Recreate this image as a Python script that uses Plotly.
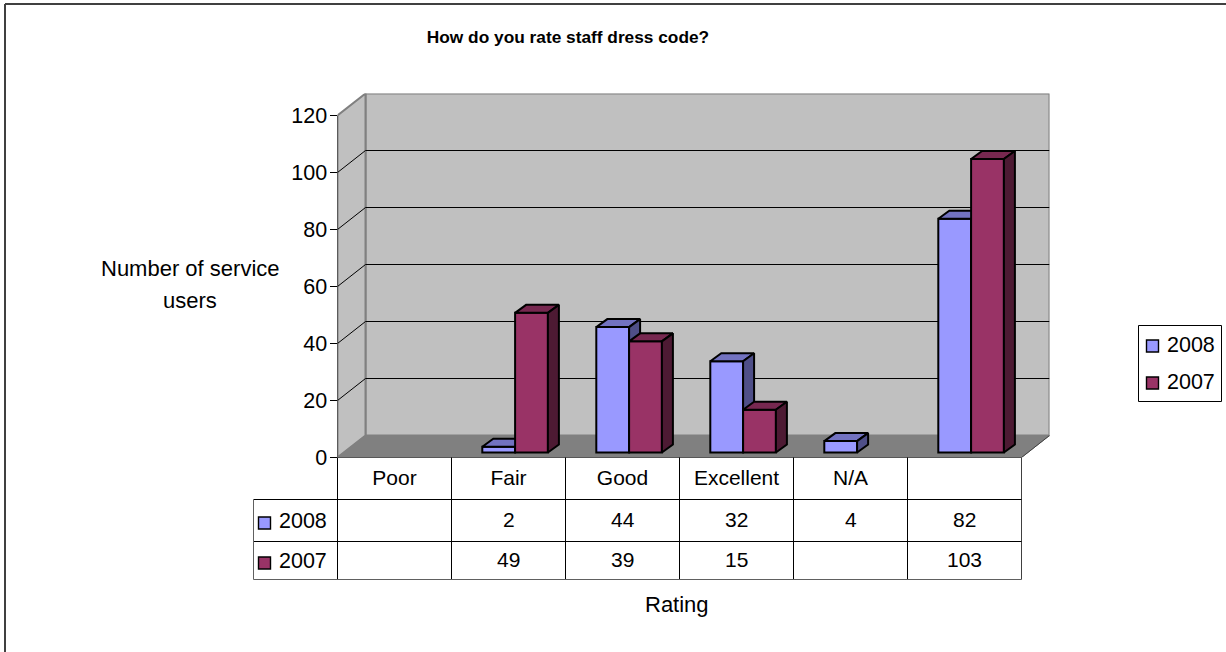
import plotly.graph_objects as go

categories = ["Poor", "Fair", "Good", "Excellent", "N/A", ""]
series_names = ["2008", "2007"]
values_2008 = [None, 2, 44, 32, 4, 82]
values_2007 = [None, 49, 39, 15, None, 103]
y_ticks = [0, 20, 40, 60, 80, 100, 120]

W, H = 1226, 652
X0, X1, Y0, Y1 = 337.5, 1021.5, 457.5, 115.5      # front plane in px
DEPTH_X, DEPTH_Y = 28, 22                 # wall depth in px
PX_X = (X1 - X0) / 6
PX_Y = (Y0 - Y1) / 120
FONT = "Liberation Sans"
FS = 21
FS_TICK = 21.5
FS_LABEL = 22

def ux(p): return p / PX_X
def uy(p): return p / PX_Y
def py(p): return 1 - p / H
def px(p): return p / W

BAR_W = ux(32.8)
BAR_BASE = uy(5)
BAR_DX, BAR_DY = ux(11), uy(8)
START = ux(30.8)
COLORS = {
    "2008": dict(front="#9999FF", top="#7272C0", side="#4F4F88"),
    "2007": dict(front="#993366", top="#772850", side="#4D1A33"),
}
centers = [i + 0.5 for i in range(6)]

fig = go.Figure()

def add_series(name, vals, idx, xa, ya):
    c = COLORS[name]
    xs = [i + START + idx * BAR_W + BAR_W / 2 for i in range(6)]
    fig.add_trace(go.Bar(
        x=xs, y=vals, base=BAR_BASE, width=BAR_W, name=name, xaxis=xa, yaxis=ya,
        marker=dict(color=c["front"], line=dict(color="black", width=2)),
    ))
    topx, topy, sidex, sidey = [], [], [], []
    for x, v in zip(xs, vals):
        if v is None:
            continue
        l, r = x - BAR_W / 2, x + BAR_W / 2
        t = BAR_BASE + v
        topx += [l, r, r + BAR_DX, l + BAR_DX, l, None]
        topy += [t, t, t + BAR_DY, t + BAR_DY, t, None]
        sidex += [r, r + BAR_DX, r + BAR_DX, r, r, None]
        sidey += [BAR_BASE, BAR_BASE + BAR_DY, t + BAR_DY, t, BAR_BASE, None]
    for px_, py_, col in ((topx, topy, c["top"]), (sidex, sidey, c["side"])):
        fig.add_trace(go.Scatter(
            x=px_, y=py_, mode="lines", fill="toself", fillcolor=col,
            line=dict(color="black", width=2), showlegend=False,
            hoverinfo="skip", xaxis=xa, yaxis=ya,
        ))

add_series("2008", values_2008, 0, "x", "y")
add_series("2007", values_2007, 1, "x2", "y2")

shapes = []
dx, dy = ux(DEPTH_X), uy(DEPTH_Y)
WALL = "#C0C0C0"
GREY = "#808080"
def poly(pts, fill, line=GREY, w=2):
    path = "M" + "L".join(f"{a},{b}" for a, b in pts) + "Z"
    shapes.append(dict(type="path", path=path, xref="x", yref="y", fillcolor=fill,
                       line=dict(color=line, width=w), layer="below"))
def seg(x0, y0, x1, y1, color="black", w=1, ref="x"):
    shapes.append(dict(type="line", x0=x0, y0=y0, x1=x1, y1=y1,
                       xref="x" if ref == "x" else "paper",
                       yref="y" if ref == "x" else "paper",
                       line=dict(color=color, width=w), layer="below" if ref == "x" else "above"))

poly([(dx, dy), (6 + dx, dy), (6 + dx, 120 + dy), (dx, 120 + dy)], WALL)
poly([(0, 0), (dx, dy), (dx, 120 + dy), (0, 120)], WALL)
poly([(0, 0), (6, 0), (6 + dx, dy), (dx, dy)], GREY, GREY, 1)
for t in y_ticks[1:-1]:
    seg(0, t, dx, t + dy)
    seg(dx, t + dy, 6 + dx, t + dy)
seg(6, 0, 6 + dx, dy, "#404040", 1)
seg(0, 0, 0, 120, "black", 1)
seg(0, 0, 6, 0, "black", 1)

# data table
ROWS = [457.5, 499.5, 541.5, 579.5]
COLS = [X0 + i * PX_X for i in range(7)]
def pseg(a, b, c, d, color="black", w=1):
    seg(px(a), py(b), px(c), py(d), color, w, ref="paper")
for x in COLS:
    pseg(x, ROWS[0], x, ROWS[-1], "black" if x < X1 else "#404040")
pseg(253.5, ROWS[1], X1, ROWS[1])
pseg(253.5, ROWS[2], X1, ROWS[2])
pseg(253.5, ROWS[3], X1, ROWS[3], "#606060", 1)
pseg(253.5, ROWS[1], 253.5, ROWS[3], "#606060", 1)

# outer frame (left and top edges)
pseg(5, 4, W, 4, "#404040", 2)
pseg(5, 4, 5, H, "#404040", 2)

ann = []
def text(x, y, s, size=FS, xanchor="center"):
    ann.append(dict(x=px(x), y=py(y), xref="paper", yref="paper", text=s, showarrow=False,
                    font=dict(family=FONT, size=size, color="black"), yanchor="middle",
                    xanchor=xanchor))

def swatch(x, y, name):
    shapes.append(dict(type="rect", x0=px(x), x1=px(x + 12), y0=py(y + 6), y1=py(y - 6),
                       xref="paper", yref="paper", fillcolor=COLORS[name]["front"],
                       line=dict(color="black", width=1.4)))

for name, vals, ty in (("2008", values_2008, 519), ("2007", values_2007, 559)):
    for i, v in enumerate(vals):
        if v is not None:
            ann.append(dict(x=centers[i], xref="x", y=py(ty), yref="paper", text=str(v), showarrow=False,
                            xanchor="center", font=dict(family=FONT, size=FS, color="black"), yanchor="middle"))
    text(277, ty + 1.5, name, FS_TICK, xanchor="left")
    swatch(258.5, ty + 4, name)

text(190, 269, "Number of service", FS_LABEL)
text(190, 300, "users", FS_LABEL)
text(677, 604, "Rating", FS_LABEL)

# legend box
shapes.append(dict(type="rect", x0=px(1138.5), x1=px(1221.5), y0=py(401.5), y1=py(325.5), xref="paper",
                   yref="paper", fillcolor="white", line=dict(color="black", width=1), layer="below"))
for name, ly in zip(series_names, (345, 382)):
    swatch(1146.5, ly + 1, name)
    text(1165, ly, name, FS_TICK, xanchor="left")

axis_common = dict(showgrid=False, zeroline=False, automargin=False)
fig.update_layout(
    width=W, height=H, autosize=False,
    margin=dict(l=0, r=0, t=0, b=0),
    paper_bgcolor="white", plot_bgcolor="rgba(0,0,0,0)",
    showlegend=False, barmode="overlay",
    title=dict(text="<b>How do you rate staff dress code?</b>", x=568 / W, xanchor="center",
               y=py(37), yanchor="middle", font=dict(family=FONT, size=17.3, color="black"),
               automargin=False),
    font=dict(family=FONT, size=FS, color="black"),
    xaxis=dict(domain=[px(X0), px(X1 + DEPTH_X)], range=[0, 6 + dx], tickmode="array",
               tickvals=centers, ticktext=categories, ticks="", ticklabelstandoff=5,
               tickfont=dict(family=FONT, size=FS), **axis_common),
    yaxis=dict(domain=[py(Y0), py(Y1 - DEPTH_Y)], range=[0, 120 + dy], tickmode="array",
               tickvals=y_ticks, ticks="outside", ticklen=7, tickwidth=1, tickcolor="black",
               ticklabelstandoff=-2, tickfont=dict(family=FONT, size=FS_TICK), **axis_common),
    xaxis2=dict(overlaying="x", matches="x", visible=False, **axis_common),
    yaxis2=dict(overlaying="y", matches="y", visible=False, **axis_common),
    shapes=shapes, annotations=ann,
)

fig.write_html("out.html", config={"responsive": False, "displayModeBar": False},
               post_script="document.body.style.margin='0';document.documentElement.style.overflow='hidden';")
